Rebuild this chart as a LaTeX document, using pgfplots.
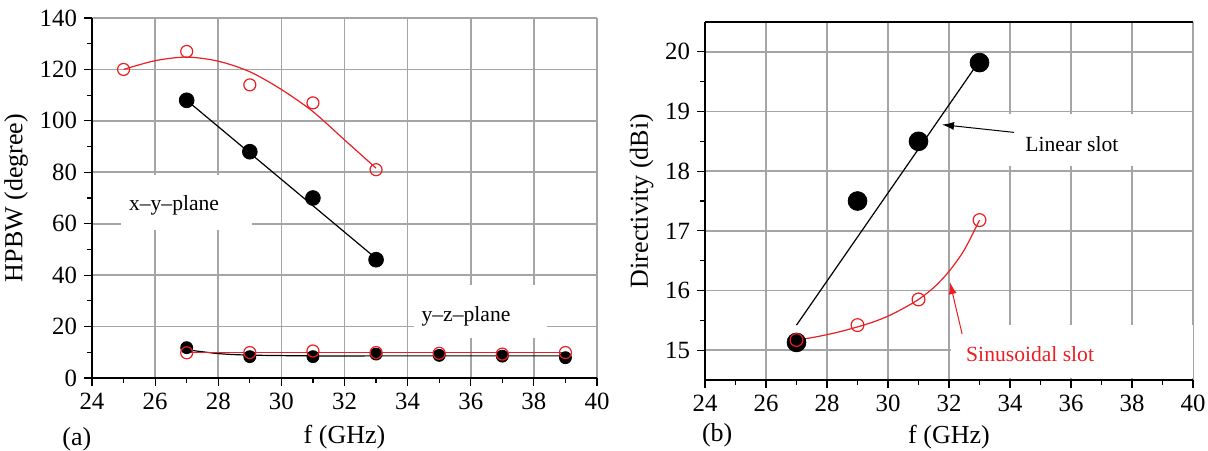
\documentclass[border=0pt]{standalone}
\usepackage{fontspec}
\setmainfont{Liberation Serif}
\usepackage{pgfplots}
\pgfplotsset{compat=1.18}
\usetikzlibrary{arrows.meta}
\definecolor{gridgray}{RGB}{165,165,165}
\definecolor{myred}{RGB}{235,30,35}
\newcommand{\ff}{\fontsize{12.4}{14}\selectfont}
\newcommand{\fl}{\fontsize{13}{15}\selectfont}
\newcommand{\fa}{\fontsize{10.8}{13}\selectfont}
\pgfplotsset{
  mystyle/.style={
    scale only axis,
    axis x line=bottom, axis y line=left,
    axis line style={-, line width=0.8pt, black},
    tick align=outside,
    major tick length=4pt, minor tick length=2.5pt,
    tick style={black, line width=0.6pt},
    grid=major,
    major grid style={gridgray, line width=0.8pt},
    minor x tick num=1, minor y tick num=1,
    xmin=24, xmax=40, xtick={24,26,...,40},
    every tick label/.append style={font=\ff},
    label style={font=\fl},
    /pgf/number format/assume math mode=true,
    clip=false,
  }
}
\begin{document}
\begin{tikzpicture}
\path[use as bounding box] (-46pt,-36pt) rectangle (558pt,189pt);
% ---------- (a) ----------
\begin{axis}[mystyle,
  width=252.5pt, height=180pt,
  ymin=0, ymax=140, ytick={0,20,...,140},
  xlabel={f (GHz)}, ylabel={HPBW (degree)},
  xlabel style={yshift=-1pt},
  ylabel style={yshift=-1pt},
]
\fill[white] (axis cs:24.92,57.6) rectangle (axis cs:29.07,78.9);
\fill[white] (axis cs:34.2,15.6) rectangle (axis cs:38.4,36.2);
\node[font=\fa] at (axis cs:26.6,67.3) {x–y–plane};
\node[font=\fa] at (axis cs:35.85,24.1) {y–z–plane};
% red x-y fit curve
\addplot[myred, line width=0.6pt, smooth] coordinates {(25,120) (26,123.4) (27,124.8) (28,123.2) (29,119.1) (30,112.2) (31,103.6) (32,92.6) (33,81.6)};
\addplot[only marks, mark=o, mark size=3pt, myred, mark options={line width=0.6pt}] coordinates {(25,120) (27,127) (29,114) (31,107) (33,81)};
% black x-y line
\addplot[black, line width=0.6pt] coordinates {(27,108) (33,46.5)};
\addplot[only marks, mark=*, mark size=3.7pt, black] coordinates {(27,108) (29,88) (31,70) (33,46)};
% y-z plane
\addplot[only marks, mark=*, mark size=3pt, black] coordinates {(27,11.8) (29,8.3) (31,8.3) (33,9.3) (35,8.8) (37,8.5) (39,7.9)};
\addplot[black, line width=0.6pt, smooth] coordinates {(27,11) (28,9.5) (29,8.9) (31,8.6) (33,8.6) (35,8.6) (37,8.6) (39,8.6)};
\addplot[myred, line width=0.6pt] coordinates {(27,10) (39,10)};
\addplot[only marks, mark=o, mark size=3pt, myred, fill=white, mark options={line width=0.6pt, fill=white}] coordinates {(27,9.8) (29,9.9) (31,10.5) (33,9.9) (35,9.6) (37,9.3) (39,9.9)};
\node[font=\fl] at (axis description cs:-0.03,-0.17) {(a)};
\end{axis}
% ---------- (b) ----------
\begin{axis}[mystyle,
  at={(306.5pt,-1pt)}, anchor=south west,
  width=244pt, height=179pt,
  ymin=14.5, ymax=20.5, ytick={15,16,...,20},
  xlabel={f (GHz)}, ylabel={Directivity (dBi)},
  xlabel style={yshift=0pt},
  ylabel style={yshift=-1pt},
]
\draw[black, line width=0.8pt] (rel axis cs:0,1) -- (rel axis cs:1,1);
\fill[white] (axis cs:33.5,18.09) rectangle (axis cs:39.6,18.96);
\fill[white] (axis cs:32.06,14.53) rectangle (axis cs:40,15.42);
\node[font=\fa] at (axis cs:36.03,18.46) {Linear slot};
\node[font=\fa, text=myred] at (axis cs:34.66,14.93) {Sinusoidal slot};
\draw[-{Latex[length=6pt,width=4pt]}, black, line width=0.5pt] (axis cs:34.13,18.65) -- (axis cs:31.77,18.78);
\draw[-{Latex[length=6pt,width=4pt]}, myred, line width=0.5pt] (axis cs:32.43,15.27) -- (axis cs:32.03,16.14);
% black linear
\addplot[black, line width=0.6pt] coordinates {(27,15.42) (33,19.85)};
\addplot[only marks, mark=*, mark size=4.7pt, black] coordinates {(27,15.13) (29,17.5) (31,18.5) (33,19.82)};
% red sinusoidal
\addplot[myred, line width=0.6pt, smooth, tension=0.5] coordinates {(27,15.17) (27.5,15.21) (28,15.26) (28.5,15.32) (29,15.39) (29.5,15.47) (30,15.57) (30.5,15.7) (31,15.85) (31.5,16.05) (32,16.32) (32.5,16.68) (33,17.18)};
\addplot[only marks, mark=o, mark size=3.2pt, myred, mark options={line width=0.6pt}] coordinates {(27,15.17) (29,15.42) (31,15.85) (33,17.18)};
\node[font=\fl] at (axis description cs:0.025,-0.155) {(b)};
\end{axis}
\end{tikzpicture}
\end{document}
